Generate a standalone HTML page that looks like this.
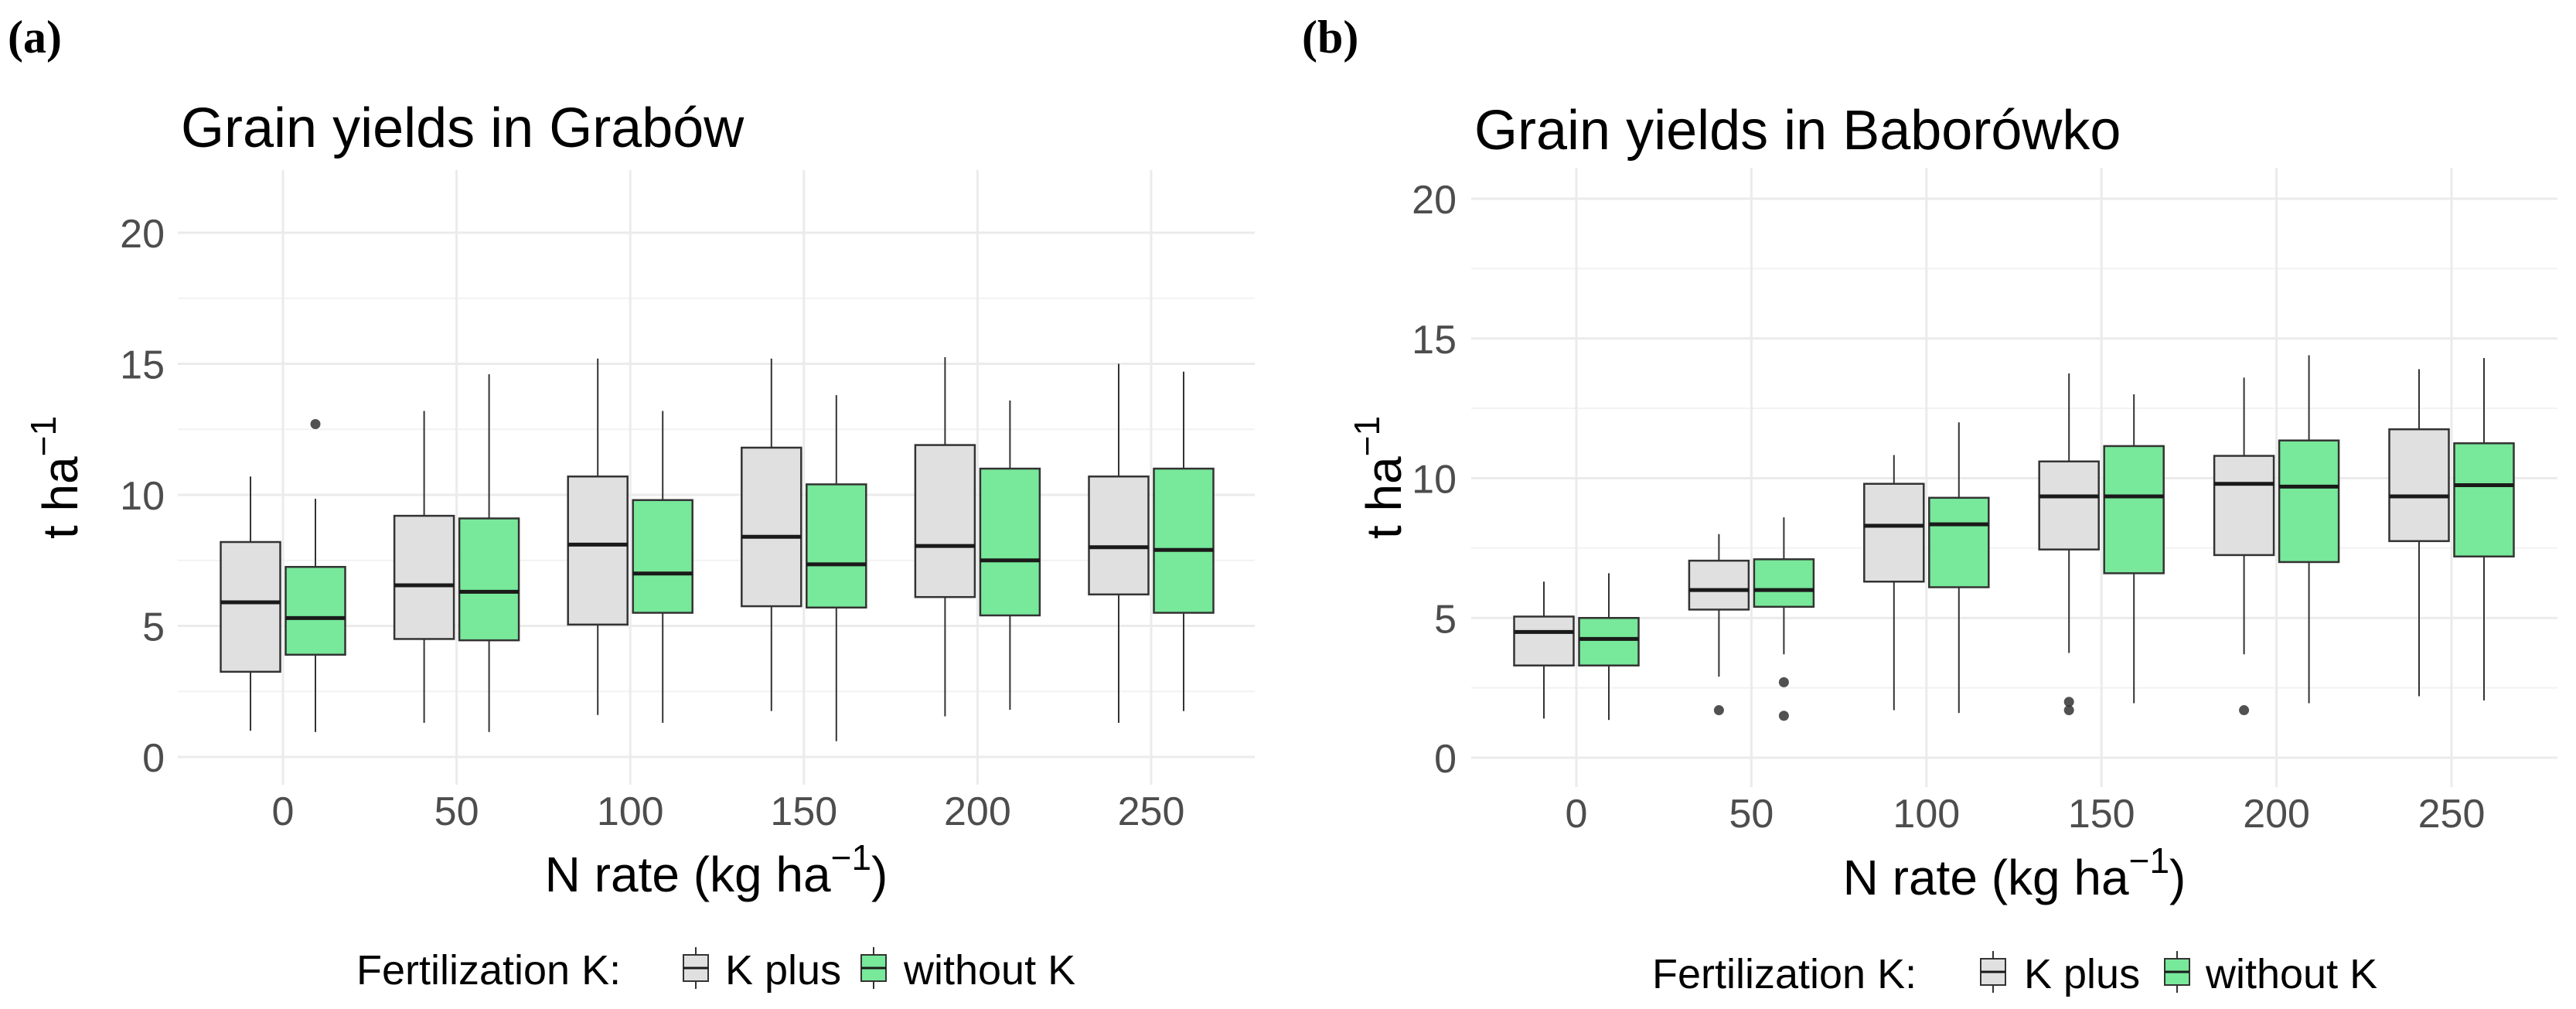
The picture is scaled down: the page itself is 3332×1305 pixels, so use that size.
<!DOCTYPE html>
<html><head><meta charset="utf-8"><style>
html,body{margin:0;padding:0;background:#fff;}
svg{display:block;font-family:"Liberation Sans",Arial,sans-serif;}
</style></head><body>
<svg id="fig" width="3332" height="1305" viewBox="0 0 3332 1305" xmlns="http://www.w3.org/2000/svg">
<rect width="3332" height="1305" fill="#fff"/>
<g id="pa"></g>
<g id="pb"></g>
</svg>
<script>
const categories = ["0","50","100","150","200","250"];
const yTicks = [0,5,10,15,20];
// Panel a (Grabów): [lowWhisker, Q1, median, Q3, highWhisker]
const aKplusLow = [1.0,1.3,1.6,1.75,1.55,1.3];
const aKplusQ1 = [3.25,4.5,5.05,5.75,6.1,6.2];
const aKplusMed = [5.9,6.55,8.1,8.4,8.05,8.0];
const aKplusQ3 = [8.2,9.2,10.7,11.8,11.9,10.7];
const aKplusHigh = [10.7,13.2,15.2,15.2,15.25,15.0];
const aNoKLow = [0.95,0.95,1.3,0.6,1.8,1.75];
const aNoKQ1 = [3.9,4.45,5.5,5.7,5.4,5.5];
const aNoKMed = [5.3,6.3,7.0,7.35,7.5,7.9];
const aNoKQ3 = [7.25,9.1,9.8,10.4,11.0,11.0];
const aNoKHigh = [9.85,14.6,13.2,13.8,13.6,14.7];
const aKplusOut = [[],[],[],[],[],[]];
const aNoKOut = [[12.7],[],[],[],[],[]];
// Panel b (Baborówko)
const bKplusLow = [1.4,2.9,1.7,3.75,3.7,2.2];
const bKplusQ1 = [3.3,5.3,6.3,7.45,7.25,7.75];
const bKplusMed = [4.5,6.0,8.3,9.35,9.8,9.35];
const bKplusQ3 = [5.05,7.05,9.8,10.6,10.8,11.75];
const bKplusHigh = [6.3,8.0,10.83,13.75,13.6,13.9];
const bNoKLow = [1.35,3.7,1.6,1.95,1.95,2.05];
const bNoKQ1 = [3.3,5.4,6.1,6.6,7.0,7.2];
const bNoKMed = [4.25,6.0,8.35,9.35,9.7,9.75];
const bNoKQ3 = [5.0,7.1,9.3,11.15,11.35,11.25];
const bNoKHigh = [6.6,8.6,12.0,13.0,14.4,14.3];
const bKplusOut = [[],[1.7],[],[2.0,1.7],[1.7],[]];
const bNoKOut = [[],[2.7,1.5],[],[],[],[]];

const NS="http://www.w3.org/2000/svg";
function mk(parent,tag,attrs,text){const e=document.createElementNS(NS,tag);for(const k in attrs)e.setAttribute(k,attrs[k]);if(text!==undefined)e.textContent=text;parent.appendChild(e);return e;}

function panel(g,cfg){
  const x=i=>cfg.x0+cfg.dx*i;
  const y=v=>cfg.y0-cfg.unit*v;
  for(let v=2.5;v<=20;v+=5){
    const l=mk(g,'line',{x1:cfg.left,x2:cfg.right,y1:y(v),y2:y(v),stroke:'#f2f2f2','stroke-width':2});
    
    
  }
  yTicks.forEach(v=>{
    const l=mk(g,'line',{x1:cfg.left,x2:cfg.right,y1:y(v),y2:y(v),stroke:'#ebebeb','stroke-width':3});
    
    
    const t=mk(g,'text',{x:cfg.tickRight,y:y(v)+19,'text-anchor':'end','font-size':52,fill:'#4d4d4d'},String(v));
    
    
  });
  categories.forEach((c,i)=>{
    const l=mk(g,'line',{x1:x(i),x2:x(i),y1:cfg.top,y2:cfg.bottom,stroke:'#ebebeb','stroke-width':3});
    
    
    const t=mk(g,'text',{x:x(i),y:cfg.tickY,'text-anchor':'middle','font-size':52,fill:'#4d4d4d'},c);
    
    
  });
  const bw=77, off=42;
  const series=[
    {low:cfg.d[0],q1:cfg.d[1],med:cfg.d[2],q3:cfg.d[3],high:cfg.d[4],out:cfg.d[5],fill:'#e0e0e0',sh:-off,name:'box-k-plus'},
    {low:cfg.d[6],q1:cfg.d[7],med:cfg.d[8],q3:cfg.d[9],high:cfg.d[10],out:cfg.d[11],fill:'#78e89a',sh:off,name:'box-without-k'}
  ];
  series.forEach(s=>{
    categories.forEach((c,i)=>{
      const cx=x(i)+s.sh;
      const bx=mk(g,'g',{});
      
      
      mk(bx,'line',{x1:cx,x2:cx,y1:y(s.high[i]),y2:y(s.q3[i]),stroke:'#333','stroke-width':2});
      mk(bx,'line',{x1:cx,x2:cx,y1:y(s.q1[i]),y2:y(s.low[i]),stroke:'#333','stroke-width':2});
      mk(bx,'rect',{x:cx-bw/2,y:y(s.q3[i]),width:bw,height:y(s.q1[i])-y(s.q3[i]),fill:s.fill,stroke:'#333','stroke-width':2.5});
      mk(bx,'line',{x1:cx-bw/2,x2:cx+bw/2,y1:y(s.med[i]),y2:y(s.med[i]),stroke:'#1a1a1a','stroke-width':5});
      s.out[i].forEach(v=>{
        const p=mk(bx,'circle',{cx:cx,cy:y(v),r:6.5,fill:'#333','fill-opacity':0.85});
        
        
      });
    });
  });
  const title=mk(g,'text',{x:cfg.left+4,y:cfg.titleY,'font-size':72,fill:'#000'},cfg.title);
  
  
  const xt=mk(g,'text',{x:(cfg.left+cfg.right)/2,y:cfg.xTitleY,'text-anchor':'middle','font-size':64,fill:'#000'});
  
  
  mk(xt,'tspan',{},'N rate (kg ha');
  mk(xt,'tspan',{dy:-28,'font-size':46},'\u22121');
  mk(xt,'tspan',{dy:28},')');
  const cy=(cfg.top+cfg.bottom)/2;
  const yt=mk(g,'text',{x:0,y:0,'text-anchor':'middle','font-size':64,fill:'#000',transform:`translate(${cfg.yTitleX},${cy}) rotate(-90)`});
  
  
  mk(yt,'tspan',{},'t ha');
  mk(yt,'tspan',{dy:-28,'font-size':46},'\u22121');
  const pl=mk(g,'text',{x:cfg.labelX,y:68,'font-size':60,'font-weight':'bold','font-family':'"Liberation Serif",serif',fill:'#000'},cfg.label);
  
  
  const lg=mk(g,'g',{});
  
  
  const L=cfg.leg, ly=L.y;
  mk(lg,'text',{x:L.t,y:ly,'font-size':54,fill:'#000'},'Fertilization K:');
  [[L.k1,'#e0e0e0','K plus',L.t1],[L.k2,'#78e89a','without K',L.t2]].forEach(([kx,f,lab,tx])=>{
    const e=mk(lg,'g',{});
    
    
    const m=kx+16;
    mk(e,'line',{x1:m,x2:m,y1:ly-48,y2:ly+6,stroke:'#333','stroke-width':2});
    mk(e,'rect',{x:kx,y:ly-38,width:32,height:34,fill:f,stroke:'#333','stroke-width':2});
    mk(e,'line',{x1:kx,x2:kx+32,y1:ly-21,y2:ly-21,stroke:'#1a1a1a','stroke-width':3});
    mk(e,'text',{x:tx,y:ly,'font-size':54,fill:'#000'},lab);
  });
}
panel(document.getElementById('pa'),{x0:366,dx:224.6,y0:979,unit:33.9,left:230,right:1623,top:220,bottom:1015,
  tickRight:213,tickY:1067,titleY:190,xTitleY:1153,yTitleX:100,labelX:10,label:'(a)',title:'Grain yields in Grabów',
  d:[aKplusLow,aKplusQ1,aKplusMed,aKplusQ3,aKplusHigh,aKplusOut,aNoKLow,aNoKQ1,aNoKMed,aNoKQ3,aNoKHigh,aNoKOut],
  leg:{y:1273,t:461,k1:884,t1:938,k2:1114,t2:1169}});
panel(document.getElementById('pb'),{x0:2039,dx:226.4,y0:980,unit:36.15,left:1903,right:3308,top:217,bottom:1018,
  tickRight:1884,tickY:1070,titleY:193,xTitleY:1157,yTitleX:1812,labelX:1684,label:'(b)',title:'Grain yields in Baborówko',
  d:[bKplusLow,bKplusQ1,bKplusMed,bKplusQ3,bKplusHigh,bKplusOut,bNoKLow,bNoKQ1,bNoKMed,bNoKQ3,bNoKHigh,bNoKOut],
  leg:{y:1278,t:2137,k1:2562,t1:2618,k2:2800,t2:2853}});
</script>
</body></html>
